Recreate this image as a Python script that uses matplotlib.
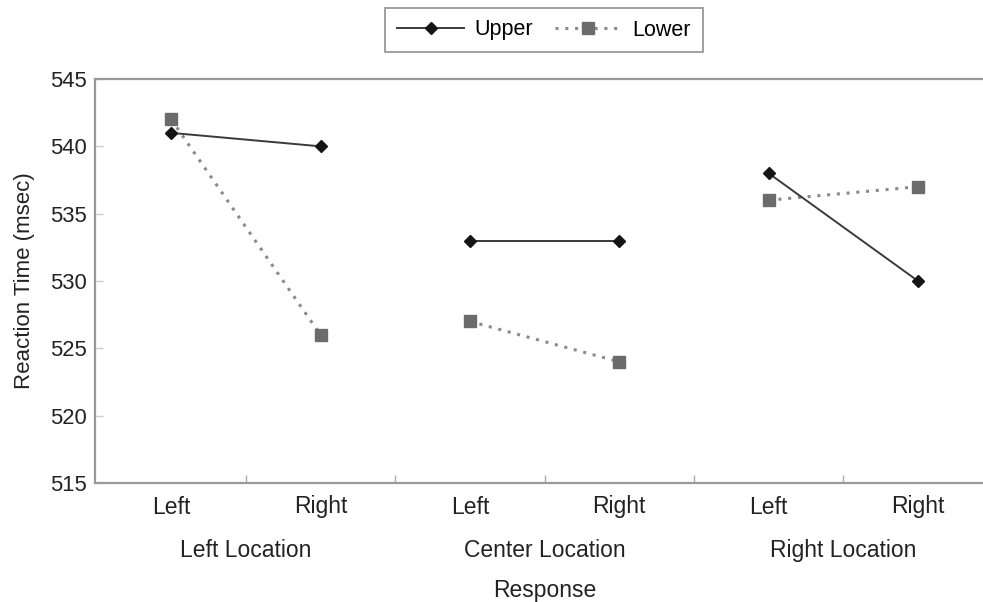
import matplotlib.pyplot as plt
from matplotlib.lines import Line2D

plt.rcParams['font.family'] = ['Liberation Sans', 'DejaVu Sans']

responses = ['Left', 'Right', 'Left', 'Right', 'Left', 'Right']
locations = ['Left Location', 'Center Location', 'Right Location']
upper = [541, 540, 533, 533, 538, 530]
lower = [542, 526, 527, 524, 536, 537]

fig = plt.figure(figsize=(9.83, 6.02), dpi=100)
ax = fig.add_axes([95 / 983, (602 - 483) / 602, 888 / 983, 404 / 602])

# each location is drawn as its own pair of points, not joined across groups
for g in range(len(locations)):
    xs = [2 * g, 2 * g + 1]
    ax.plot(xs, lower[2 * g:2 * g + 2], color='#8a8a8a', linestyle=(0, (1, 2.2)),
            linewidth=2.2, marker='s', markersize=8, markerfacecolor='#6b6b6b',
            markeredgecolor='#6b6b6b', zorder=2)
    ax.plot(xs, upper[2 * g:2 * g + 2], color='#3a3a3a', linestyle='-',
            linewidth=1.4, marker='D', markersize=6.5, markerfacecolor='#151515',
            markeredgecolor='#151515', zorder=3)

ax.set_xlim(-0.51, 5.435)
ax.set_ylim(515, 545)
ax.set_yticks(range(515, 546, 5))

ax.set_xticks(range(len(responses)))
ax.set_xticklabels(responses)
ax.set_xticks([0.5, 1.5, 2.5, 3.5, 4.5], minor=True)
ax.tick_params(axis='x', which='major', length=0, pad=9, labelsize=16.5,
               labelcolor='#222222')
ax.tick_params(axis='x', which='minor', direction='in', length=6, width=1,
               color='#aaaaaa')
ax.tick_params(axis='y', direction='in', length=6, width=1, color='#cccccc',
               labelsize=15.8, pad=6, labelcolor='#222222')

for side in ['left', 'bottom', 'top']:
    ax.spines[side].set_color('#9a9a9a')
    ax.spines[side].set_linewidth(1.6)
ax.spines['right'].set_visible(False)

for g, name in enumerate(locations):
    ax.text(2 * g + 0.5, -0.167, name, transform=ax.get_xaxis_transform(),
            ha='center', va='center', fontsize=16.5, color='#222222')
ax.text(2.5, -0.265, 'Response', transform=ax.get_xaxis_transform(),
        ha='center', va='center', fontsize=16.5, color='#222222')
ax.set_ylabel('Reaction Time (msec)', fontsize=16, color='#222222', labelpad=11)

handles = [
    Line2D([], [], color='#3a3a3a', linewidth=1.4, marker='D', markersize=6.5,
           markerfacecolor='#151515', markeredgecolor='#151515'),
    Line2D([], [], color='#8a8a8a', linestyle=(0, (1, 2.2)), linewidth=2.2,
           marker='s', markersize=8, markerfacecolor='#6b6b6b',
           markeredgecolor='#6b6b6b'),
]
leg = fig.legend(handles, ['Upper', 'Lower'], loc='center',
                 bbox_to_anchor=(544 / 983, 1 - 30 / 602), ncol=2,
                 fontsize=15.5, frameon=True, fancybox=False, handlelength=3.1,
                 columnspacing=1.0, borderpad=0.55, handletextpad=0.5)
leg.get_frame().set_edgecolor('#888888')
leg.get_frame().set_linewidth(1.4)

fig.savefig('out.png', dpi=100)
